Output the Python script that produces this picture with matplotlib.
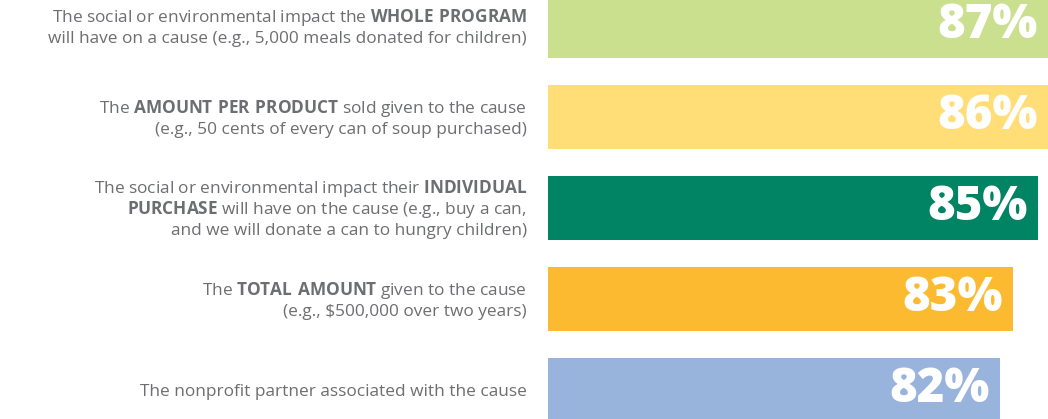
import matplotlib.pyplot as plt
from matplotlib.transforms import blended_transform_factory

plt.rcParams["font.family"] = ["Open Sans", "DejaVu Sans"]
plt.rcParams["mathtext.fontset"] = "custom"
plt.rcParams["mathtext.rm"] = "Open Sans"
plt.rcParams["mathtext.bf"] = "Open Sans:bold"

labels = [
    "The social or environmental impact the $\\mathbf{WHOLE\\ PROGRAM}$\n"
    "will have on a cause (e.g., 5,000 meals donated for children)",
    "The $\\mathbf{AMOUNT\\ PER\\ PRODUCT}$ sold given to the cause\n"
    "(e.g., 50 cents of every can of soup purchased)",
    "The social or environmental impact their $\\mathbf{INDIVIDUAL}$\n"
    "$\\mathbf{PURCHASE}$ will have on the cause (e.g., buy a can,\n"
    "and we will donate a can to hungry children)",
    "The $\\mathbf{TOTAL\\ AMOUNT}$ given to the cause\n"
    "(e.g., \\$500,000 over two years)",
    "The nonprofit partner associated with the cause",
]
values = [87, 86, 85, 83, 82]
colors = ["#cbe08f", "#ffdd77", "#008464", "#fcba30", "#98b4dd"]

x_min, x_max = 46.3, 85.8
text_gray = "#6d6e71"

fig = plt.figure(figsize=(10.48, 4.19), dpi=100)
ax = fig.add_axes([548 / 1048, 0, 1 - 548 / 1048, 1])

pos = list(range(len(values)))
ax.barh(pos, [v - x_min for v in values], left=x_min, height=0.71,
        color=colors, edgecolor="none")
ax.set_xlim(x_min, x_max)
ax.set_ylim(4.319, -0.286)
ax.axis("off")

# labels: one text per line so math and plain lines share the same spacing
trans = blended_transform_factory(fig.transFigure, ax.transData)
line_px = 21
for y, lab in zip(pos, labels):
    lines = lab.split("\n")
    n = len(lines)
    for i, line in enumerate(lines):
        dy = (i - (n - 1) / 2) * line_px + 6.5
        ax.annotate(line, (527 / 1048, y), xycoords=trans, xytext=(0, -dy),
                    textcoords="offset pixels", ha="right", va="baseline",
                    fontsize=12.4, color=text_gray)

for y, v in zip(pos, values):
    ax.annotate(f"{v}%", (min(v, x_max), y), xytext=(-10, 0),
                textcoords="offset pixels", ha="right", va="center",
                fontsize=34, fontweight="heavy", color="white",
                annotation_clip=False)

fig.savefig("out.png", dpi=100)
